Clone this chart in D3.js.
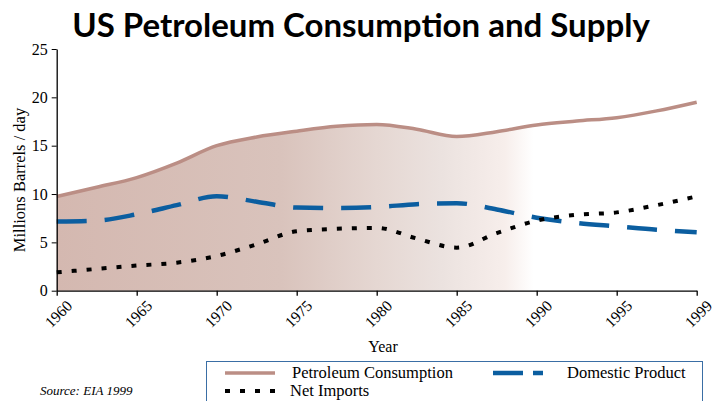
<!doctype html>
<html lang="en">
<head>
<meta charset="UTF-8">
<title>US Petroleum Consumption and Supply</title>
<script src="https://cdn.jsdelivr.net/npm/d3@7/dist/d3.min.js"></script>
<style>
    body { margin: 0; background: #fff; }
    svg { display: block; }
</style>
</head>
<body>
<svg width="720" height="401"></svg>
<script>
// values (the last point sits at the tick labelled 1999)
var years = [1960, 1962.5, 1965, 1967.5, 1970, 1972.5, 1975, 1977.5, 1980, 1982.5, 1985, 1987.5, 1990, 1992.5, 1995, 1997.5, 2000];
var consumption = [9.75, 10.7, 11.7, 13.2, 15.0, 15.9, 16.5, 17.0, 17.2, 16.7, 15.95, 16.45, 17.15, 17.55, 17.9, 18.6, 19.5];
var domestic = [7.15, 7.25, 7.9, 8.85, 9.78, 9.2, 8.6, 8.55, 8.65, 8.95, 9.05, 8.4, 7.55, 7.0, 6.65, 6.3, 6.05];
var netImports = [1.9, 2.25, 2.6, 2.9, 3.6, 4.8, 6.15, 6.4, 6.5, 5.4, 4.45, 5.95, 7.25, 7.85, 8.1, 8.85, 9.75];
var tickYears = [1960, 1965, 1970, 1975, 1980, 1985, 1990, 1995, 2000];
var tickLabels = ["1960", "1965", "1970", "1975", "1980", "1985", "1990", "1995", "1999"];
var yTicks = [0, 5, 10, 15, 20, 25];

var svg = d3.select("svg");
var serif = "'Liberation Serif', 'Times New Roman', serif";

var x = d3.scaleLinear().domain([1960, 2000]).range([56.7, 696.7]);
var y = d3.scaleLinear().domain([0, 25]).range([290.7, 49]);

// gradient fill under the consumption line
var defs = svg.append("defs");
var grad = defs.append("linearGradient")
    .attr("id", "fade")
    .attr("gradientUnits", "userSpaceOnUse")
    .attr("x1", x(1960)).attr("x2", x(2000)).attr("y1", 0).attr("y2", 0);
[[0, "#d4b8b0"], [0.35, "#d9c3bc"], [0.5, "#e5d7d2"], [0.6, "#ebe2df"], [0.7, "#f7eeeb"], [0.745, "#ffffff"], [1, "#ffffff"]]
    .forEach(function (s) { grad.append("stop").attr("offset", s[0]).attr("stop-color", s[1]); });

function pts(vals) { return years.map(function (yr, i) { return [yr, vals[i]]; }); }

var area = d3.area()
    .x(function (d) { return x(d[0]); })
    .y0(y(0))
    .y1(function (d) { return y(d[1]); })
    .curve(d3.curveMonotoneX);

var line = d3.line()
    .x(function (d) { return x(d[0]); })
    .y(function (d) { return y(d[1]); })
    .curve(d3.curveMonotoneX);

svg.append("path").attr("d", area(pts(consumption))).attr("fill", "url(#fade)");

var series = [
    { name: "Petroleum Consumption", vals: consumption, color: "#bb8e85", width: 3.5, dash: null, key: null },
    { name: "Domestic Product", vals: domestic, color: "#0b5ea0", width: 4.5, dash: "30,18", key: "30,10" },
    { name: "Net Imports", vals: netImports, color: "#000", width: 4, dash: "5,10", key: "5,10" }
];

series.forEach(function (s) {
    svg.append("path")
        .attr("d", line(pts(s.vals)))
        .attr("fill", "none")
        .attr("stroke", s.color)
        .attr("stroke-width", s.width)
        .attr("stroke-dasharray", s.dash);
});

// axes
var yAxis = svg.append("g")
    .attr("transform", "translate(" + x(1960) + ",0)")
    .call(d3.axisLeft(y).tickValues(yTicks).tickSize(5).tickSizeOuter(0));
yAxis.select(".domain").attr("stroke", "#000").attr("stroke-width", 1.3);
yAxis.selectAll("text").attr("font-family", serif).attr("font-size", 16).attr("fill", "#000").attr("dx", "-1");

var xAxis = svg.append("g")
    .attr("transform", "translate(0," + y(0) + ")")
    .call(d3.axisBottom(x).tickValues(tickYears).tickSize(5).tickSizeOuter(0)
        .tickFormat(function (d, i) { return tickLabels[i]; }));
xAxis.select(".domain").attr("stroke", "#000").attr("stroke-width", 1.3);
xAxis.selectAll(".tick line").attr("stroke-width", 1.3);
xAxis.selectAll("text")
    .attr("font-family", serif).attr("font-size", 15.5).attr("fill", "#000")
    .attr("text-anchor", "end")
    .attr("dy", null).attr("y", null)
    .attr("transform", "translate(16,16) rotate(-45)");

svg.append("text")
    .attr("x", 383).attr("y", 352)
    .attr("text-anchor", "middle")
    .attr("font-family", serif).attr("font-size", 16)
    .text("Year");

svg.append("text")
    .attr("transform", "translate(25,180) rotate(-90)")
    .attr("text-anchor", "middle")
    .attr("font-family", serif).attr("font-size", 16.5)
    .text("Millions Barrels / day");

// title, squeezed to the width it takes in the reference
var title = svg.append("text")
    .attr("x", 361).attr("y", 37)
    .attr("text-anchor", "middle")
    .attr("font-family", "Lato, 'Open Sans', sans-serif")
    .attr("font-weight", "bold")
    .attr("font-size", 33)
    .text("US Petroleum Consumption and Supply");
var tw = title.node().getComputedTextLength();
title.attr("font-size", 33 * 578 / tw);

svg.append("text")
    .attr("x", 40).attr("y", 395)
    .attr("font-family", serif).attr("font-style", "italic").attr("font-size", 13)
    .text("Source: EIA 1999");

// legend
svg.append("rect")
    .attr("x", 206.5).attr("y", 361.5).attr("width", 496).attr("height", 50)
    .attr("fill", "#fff").attr("stroke", "#3a6ea5").attr("stroke-width", 1);

var legendPos = [[225, 373, 292], [493, 373, 567], [225, 391, 290]];
series.forEach(function (s, i) {
    var p = legendPos[i];
    svg.append("line")
        .attr("x1", p[0]).attr("x2", p[0] + 50).attr("y1", p[1]).attr("y2", p[1])
        .attr("stroke", s.color).attr("stroke-width", s.width)
        .attr("stroke-dasharray", s.key);
    svg.append("text")
        .attr("x", p[2]).attr("y", p[1] + 5)
        .attr("font-family", serif).attr("font-size", 16.5)
        .text(s.name);
});
</script>
</body>
</html>
